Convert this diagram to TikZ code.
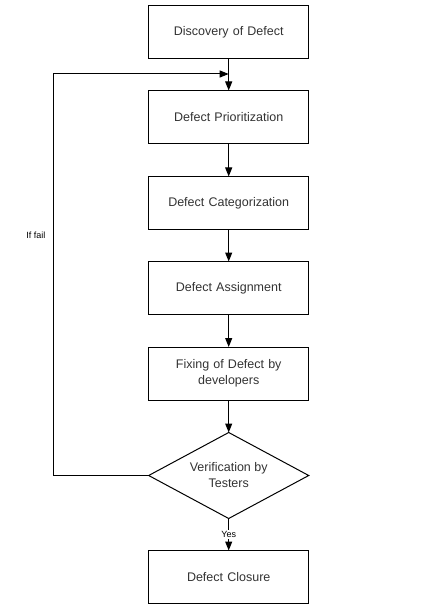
\documentclass[tikz,border=0pt]{standalone}
\usepackage{fontspec}
\setmainfont{Liberation Sans}
\usetikzlibrary{shapes.geometric,arrows.meta}

\begin{document}
\begin{tikzpicture}[x=1pt,y=-1pt]
    \pgfmathsetmacro{\boxwidth}{160}
    \pgfmathsetmacro{\boxheight}{53}
    \pgfmathsetmacro{\diamondheight}{86}
    \pgfmathsetmacro{\centerx}{228.7}
    \pgfmathsetmacro{\loopx}{53}
    \pgfmathsetmacro{\loopy}{74}
    \providecommand{\boxfontsize}{\fontsize{12.5pt}{16pt}\selectfont}
    \providecommand{\labelfontsize}{\fontsize{9pt}{11pt}\selectfont}
    \definecolor{textgray}{HTML}{333333}
    \tikzset{
        stepbox/.style={draw,line width=1pt,minimum width=\boxwidth pt,minimum height=\boxheight pt,
            text width=(\boxwidth-20)*1pt,align=center,inner sep=0,outer sep=0,
            font=\boxfontsize,text=textgray},
        decision/.style={draw,diamond,aspect=1.86,line width=1pt,minimum width=\boxwidth pt,
            minimum height=\diamondheight pt,align=center,inner sep=0,outer sep=0,
            font=\boxfontsize,text=textgray},
        flow/.style={line width=1pt,-{Triangle[length=9pt,width=7pt]}},
        flowlabel/.style={font=\labelfontsize,fill=white,inner sep=1pt}
    }
    \useasboundingbox (0,0) rectangle (439,612);
    \node[stepbox] (discovery) at (\centerx,32.5) {Discovery of Defect};
    \node[stepbox] (prioritization) at (\centerx,117) {Defect Prioritization};
    \node[stepbox] (categorization) at (\centerx,203) {Defect Categorization};
    \node[stepbox] (assignment) at (\centerx,288) {Defect Assignment};
    \node[stepbox] (fixing) at (\centerx,373.5) {Fixing of Defect by\\developers};
    \node[decision] (verification) at (\centerx,475.5) {Verification by\\Testers};
    \node[stepbox] (closure) at (\centerx,577) {Defect Closure};
    \coordinate (merge) at (\centerx,\loopy);
    \draw[flow] (discovery) -- (prioritization);
    \draw[flow] (prioritization) -- (categorization);
    \draw[flow] (categorization) -- (assignment);
    \draw[flow] (assignment) -- (fixing);
    \draw[flow] (fixing) -- (verification);
    \draw[flow] (verification) -- node[flowlabel] {Yes} (closure);
    % back to prioritization when the check fails
    \draw[flow] (verification.west) -- (\loopx,475.5) |- (merge);
    \node[font=\labelfontsize,anchor=east] (fail) at (\loopx-4,235) {If fail};
\end{tikzpicture}
\end{document}
